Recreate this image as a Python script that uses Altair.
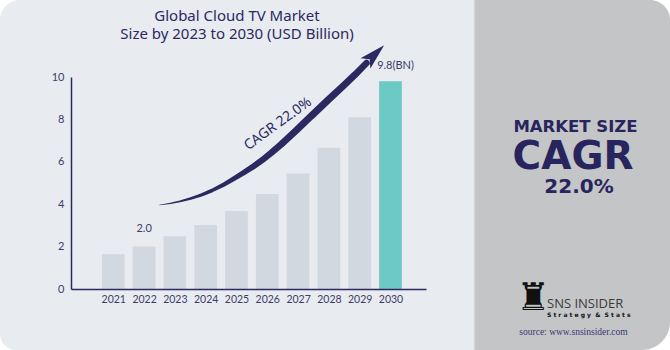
import altair as alt
import pandas as pd

# ---- data ----
years = [2021, 2022, 2023, 2024, 2025, 2026, 2027, 2028, 2029, 2030]
values = [1.64, 2.0, 2.49, 3.02, 3.68, 4.48, 5.45, 6.66, 8.1, 9.8]
y_ticks = [0, 2, 4, 6, 8, 10]

# annotation labels above bars
label_years = [2022, 2030]
label_texts = ["2.0", "9.8(BN)"]

# CAGR arrow path (data units) and its stroke width
arrow_x = [2022.503, 2022.850, 2023.165, 2023.512, 2023.859, 2024.206, 2024.553, 2024.869,
           2025.216, 2025.531, 2025.847, 2026.131, 2026.446, 2026.919, 2027.424, 2027.960,
           2028.497, 2028.844, 2029.222]
arrow_y = [3.962, 4.042, 4.137, 4.269, 4.434, 4.646, 4.896, 5.165, 5.472, 5.764, 6.094,
           6.425, 6.816, 7.453, 8.160, 8.892, 9.623, 10.104, 10.660]
arrow_w = [0.6, 1.2, 1.8, 2.4, 3.0, 3.6, 4.2, 4.8, 5.3, 5.8, 6.2, 6.5, 6.8, 7.0, 7.2, 7.2,
           7.0, 6.8, 6.5]
head_x = [2029.49]
head_y = [11.07]

NAVY = "#2b2960"
LABEL = "#3d3c66"
GRAY_BAR = "#d1d8df"
TEAL = "#6dc9c3"

bars_df = pd.DataFrame({"year": years, "value": values})
lab_df = pd.DataFrame({
    "year": label_years,
    "value": [values[years.index(y)] for y in label_years],
    "text": label_texts,
})
arrow_df = pd.DataFrame({"year": arrow_x, "value": arrow_y, "w": arrow_w,
                         "o": list(range(len(arrow_x)))})
head_df = pd.DataFrame({"year": head_x, "value": head_y})
one = pd.DataFrame({"a": [0]})

xscale = alt.Scale(domain=[2019.79, 2030.99], nice=False, zero=False)
yscale = alt.Scale(domain=[0, 10], nice=False)
xaxis = alt.Axis(values=years, format="d", title=None, ticks=False, grid=False,
                 domainColor=NAVY, domainWidth=1.5, labelColor=LABEL,
                 labelFont="Lato", labelFontSize=10.5, labelPadding=5,
                 labelOverlap=False, labelFlush=False, zindex=1)
yaxis = alt.Axis(values=y_ticks, title=None, ticks=False, grid=False,
                 domainColor=NAVY, domainWidth=1.5, labelColor=LABEL,
                 labelFont="Lato", labelFontSize=11, labelPadding=7,
                 labelOverlap=False, labelFlush=False, zindex=1)
X = alt.X("year:Q", scale=xscale, axis=xaxis)
Y = alt.Y("value:Q", scale=yscale, axis=yaxis)

# ---- backgrounds ----
left_panel = alt.Chart(one).mark_rect(
    color="#e8ebf0", cornerRadiusTopLeft=20, cornerRadiusBottomLeft=16
).encode(x=alt.value(-71), x2=alt.value(403), y=alt.value(-77), y2=alt.value(273))

right_panel = alt.Chart(one).mark_rect(
    color="#c4c5c7", cornerRadiusTopRight=20, cornerRadiusBottomRight=28
).encode(x=alt.value(404), x2=alt.value(599), y=alt.value(-77), y2=alt.value(273))

sep = alt.Chart(one).mark_rule(color="#d3d4d8", strokeWidth=1.5).encode(
    x=alt.value(403.5), y=alt.value(-77), y2=alt.value(273)
)

# ---- bars ----
bars = alt.Chart(bars_df).mark_bar(size=22.7).encode(
    x=X, y=Y,
    color=alt.condition(alt.datum.year == 2030, alt.value(TEAL), alt.value(GRAY_BAR)),
)

lab1 = alt.Chart(lab_df).transform_filter(alt.datum.year == 2022).mark_text(
    font="Lato", fontSize=11, color=LABEL, dy=-18
).encode(x=X, y=Y, text="text:N")

lab2 = alt.Chart(lab_df).transform_filter(alt.datum.year == 2030).mark_text(
    font="Lato", fontSize=11, color=LABEL, dy=-15, dx=5
).encode(x=X, y=Y, text="text:N")

# ---- CAGR arrow ----
trail = alt.Chart(arrow_df).mark_trail(color=NAVY).encode(
    x=X, y=Y, size=alt.Size("w:Q", scale=None, legend=None), order="o:Q"
)
head = alt.Chart(head_df).mark_point(
    shape="M0,-1L0.55,1L0,0.55L-0.55,1Z", filled=True, color=NAVY, opacity=1,
    size=676, angle=46
).encode(x=X, y=Y)

cagr_txt = alt.Chart(one).mark_text(
    text="CAGR 22.0%", font="Noto Sans", fontSize=14, color=NAVY, angle=324
).encode(x=alt.value(207), y=alt.value(47))

# ---- title (two lines) ----
title = alt.Chart(one).mark_text(
    text=["Global Cloud TV Market", "Size by 2023 to 2030 (USD Billion)"],
    font="Noto Sans", fontSize=15, lineHeight=17.5, color=NAVY, baseline="middle"
).encode(x=alt.value(166), y=alt.value(-61))

# ---- right panel text ----
r1 = alt.Chart(one).mark_text(text="MARKET SIZE", font="DejaVu Sans", fontWeight="bold",
                              fontSize=16.5, color="#27245e").encode(x=alt.value(504.5), y=alt.value(49.5))
r2 = alt.Chart(one).mark_text(text="CAGR", font="DejaVu Sans", fontWeight="bold",
                              fontSize=39, color="#27245e").encode(x=alt.value(502), y=alt.value(80))
r3 = alt.Chart(one).mark_text(text="22.0%", font="DejaVu Sans", fontWeight="bold",
                              fontSize=20, color="#27245e").encode(x=alt.value(508), y=alt.value(109.5))

rook = alt.Chart(one).mark_text(text="♜", font="DejaVu Sans", fontSize=38, color="#111111").encode(
    x=alt.value(462.5), y=alt.value(222))
sns = alt.Chart(one).mark_text(text="SNS INSIDER", font="Open Sans", fontSize=13, align="left",
                               color="#3a3a3a").encode(x=alt.value(476), y=alt.value(227))
strat = alt.Chart(one).mark_text(
    text="S\u00a0t\u00a0r\u00a0a\u00a0t\u00a0e\u00a0g\u00a0y\u00a0\u00a0&\u00a0\u00a0S\u00a0t\u00a0a\u00a0t\u00a0s",
    font="DejaVu Sans", fontWeight="bold", fontSize=6, align="left",
    color="#111111").encode(x=alt.value(476), y=alt.value(238))
src = alt.Chart(one).mark_text(text="source: www.snsinsider.com", font="Liberation Serif",
                               fontSize=9.5, color="#3a3570").encode(x=alt.value(502.5), y=alt.value(254.7))

chart = alt.layer(
    left_panel, right_panel, sep, bars, lab1, lab2, trail, head, cagr_txt,
    title, r1, r2, r3, rook, sns, strat, src
).properties(
    width=355, height=212,
    autosize=alt.AutoSizeParams(type="none"),
    padding={"left": 71, "top": 77, "right": 244, "bottom": 61},
    background="white",
).configure_view(stroke=None)

chart.save("out.html", embed_options={"renderer": "svg", "actions": False})
